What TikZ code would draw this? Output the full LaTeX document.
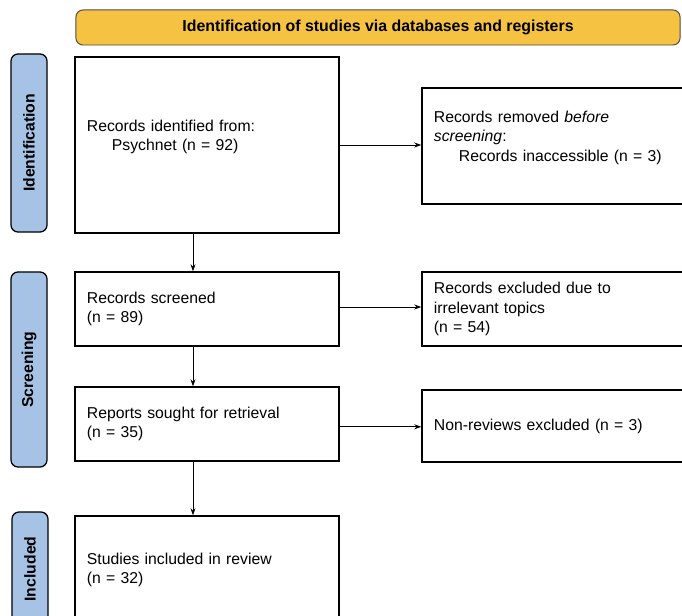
\documentclass[tikz,border=0pt]{standalone}
\usepackage{fontspec}
\setmainfont{Liberation Sans}
\usetikzlibrary{arrows.meta}
\definecolor{headyellow}{HTML}{F5C242}
\definecolor{sideblue}{HTML}{A6C3E5}
\tikzset{
	box/.style={draw,line width=0.9pt,align=left,inner xsep=0.3cm,inner ysep=0pt,font=\fontsize{11.2}{13.9}\selectfont},
	sidebar/.style={draw,line width=0.9pt,fill=sideblue,rounded corners=5pt,rotate=90,minimum width=#1,minimum height=0.9cm,inner sep=0pt,font=\bfseries\fontsize{11.2}{13}\selectfont},
	arr/.style={line width=0.6pt,-{Stealth[length=5pt,width=3.5pt]}}
}
\begin{document}
\begin{tikzpicture}[x=0.025cm,y=-0.025cm]
	\useasboundingbox (0,0) rectangle (682,616);
	\clip (0,0) rectangle (682,616);
	\node[draw=black!70,line width=0.7pt,fill=headyellow,rounded corners=5pt,minimum width=15.1cm,minimum height=0.875cm,font=\bfseries\fontsize{11.3}{13}\selectfont] (head) at (378,27.5) {Identification of studies via databases and registers};
	% phases
	\node[sidebar=4.45cm] (sident) at (29,143) {Identification};
	\node[sidebar=4.875cm] (sscreen) at (29,369.5) {Screening};
	\node[sidebar=2.85cm] (sinc) at (30,569) {Included};
	% left column
	\node[box,text width=6cm,minimum height=4.4cm] (ident) at (207,145) {Records identified from:\\\hspace*{0.625cm}Psychnet (n = 92)\\~};
	\node[box,text width=6cm,minimum height=1.85cm] (screen) at (207,309) {Records screened\\(n = 89)};
	\node[box,text width=6cm,minimum height=1.85cm] (reports) at (207,424) {Reports sought for retrieval\\(n = 35)};
	\node[box,text width=6cm,minimum height=2.7cm] (incl) at (207,570) {Studies included in review\\(n = 32)};
	% right column
	\node[box,text width=6cm,minimum height=2.9cm] (removed) at (554,146) {Records removed \emph{before}\\\emph{screening}:\\\hspace*{0.625cm}Records inaccessible (n = 3)\\~};
	\node[box,text width=6cm,minimum height=1.85cm] (excl) at (554,309) {Records excluded due to\\irrelevant topics\\(n = 54)};
	\node[box,text width=6cm,minimum height=1.8cm] (nonrev) at (554,426) {Non-reviews excluded (n = 3)};
	% arrows
	\draw[arr] ([xshift=-0.35cm]ident.south) -- ([xshift=-0.35cm]screen.north);
	\draw[arr] ([xshift=-0.35cm]screen.south) -- ([xshift=-0.35cm]reports.north);
	\draw[arr] ([xshift=-0.35cm]reports.south) -- ([xshift=-0.35cm]incl.north);
	\draw[arr] (ident.east) -- (ident.east -| removed.west);
	\draw[arr] ([yshift=0.05cm]screen.east) -- ([yshift=0.05cm]screen.east -| excl.west);
	\draw[arr] ([yshift=-0.07cm]reports.east) -- ([yshift=-0.07cm]reports.east -| nonrev.west);
\end{tikzpicture}
\end{document}
